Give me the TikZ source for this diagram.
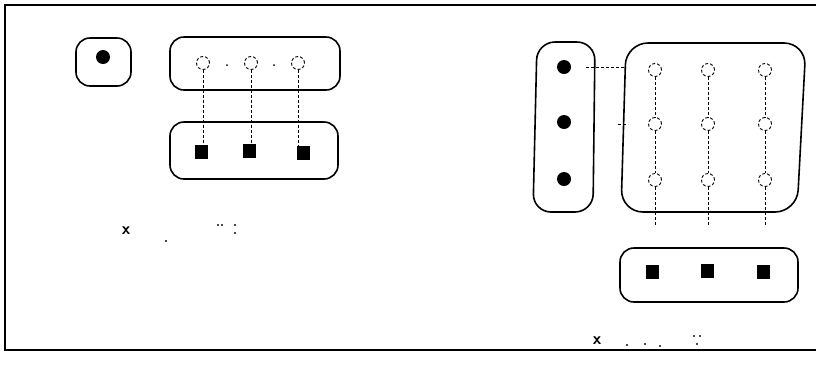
\documentclass[tikz,border=0pt]{standalone}
\usetikzlibrary{calc}
\tikzset{
  grp/.style={draw, line width=1.6pt, rounded corners=14pt},
  fulldot/.style={circle, fill=black, inner sep=0pt, minimum size=14pt},
  hollow/.style={circle, draw, densely dashed, line width=0.9pt, inner sep=0pt, minimum size=13pt},
  sq/.style={rectangle, fill=black, inner sep=0pt, minimum width=13pt, minimum height=14pt},
  link/.style={densely dashed, line width=1pt},
  frameline/.style={line width=2pt},
  lbl/.style={font=\sffamily\bfseries\fontsize{17}{17}\selectfont, inner sep=0pt},
  speck/.style={fill=black!70, inner sep=0pt, minimum size=1.8pt, rectangle}
}
\begin{document}
\begin{tikzpicture}[x=1pt,y=-1pt]
\useasboundingbox (0,0) rectangle (816,365);
% outer frame (open on the right)
\draw[frameline] (816,5) -- (5,5) -- (5,350) -- (816,350);

% ---- left figure ----
\draw[grp] (76,38) rectangle (131,86);
\node[fulldot] (d0) at (103,57) {};

\draw[grp] (170,37) rectangle (340,90);
\node[hollow] (a1) at (203,63) {};
\node[hollow] (a2) at (251,63) {};
\node[hollow] (a3) at (298,63) {};
\fill (227,65) circle (1pt);
\fill (274,65) circle (1pt);

\draw[grp] (170,122) rectangle (338,179);
\node[sq] (b1) at (201,152) {};
\node[sq] (b2) at (249,151) {};
\node[sq] (b3) at (303,153) {};
\draw[link] (a1) -- (a1 |- b1.north);
\draw[link] (a2) -- (a2 |- b2.north);
\draw[link] (a3) -- (a3 |- b3.north);

\node[lbl] (xl) at (126,231) {x};
\node[speck] (s1) at (218,225) {};
\node[speck] (s2) at (222,225) {};
\node[speck] (s3) at (235,225) {};
\node[speck] (s4) at (235,233) {};
\node[speck] (s5) at (166,241) {};

% ---- right figure ----
\draw[grp, rounded corners=18pt] (537,42) -- (595,42) -- (593,212) -- (533,212) -- cycle;
\node[fulldot] (r1) at (564,67) {};
\node[fulldot] (r2) at (564,122) {};
\node[fulldot] (r3) at (564,179) {};

\draw[grp, rounded corners=22pt] (626,43) -- (806,43) -- (797,212) -- (621,212) -- cycle;
\foreach \c/\x in {1/655,2/708,3/765}{
  \foreach \r/\y in {1/70,2/124,3/180}{
    \node[hollow] (g\c\r) at (\x,\y) {};
  }
  \draw[link] (g\c1) -- (g\c2);
  \draw[link] (g\c2) -- (g\c3);
  \coordinate (e\c) at (\x,225);
  \draw[link] (g\c3) -- (e\c);
}
\coordinate (r1o) at (586,67);
\coordinate (r1i) at (626,67);
\draw[link] (r1o) -- (r1i);
\coordinate (r2o) at (618,124);
\coordinate (r2i) at (628,124);
\draw[link] (r2o) -- (r2i);

\draw[grp] (620,248) rectangle (798,302);
\node[sq] (q1) at (652,272) {};
\node[sq] (q2) at (707,271) {};
\node[sq] (q3) at (763,272) {};

\node[lbl] (xr) at (597,341) {x};
\node[speck] (t1) at (627,345) {};
\node[speck] (t2) at (645,344) {};
\node[speck] (t3) at (660,346) {};
\node[speck] (t4) at (694,336) {};
\node[speck] (t5) at (700,336) {};
\node[speck] (t6) at (697,344) {};
\end{tikzpicture}
\end{document}
